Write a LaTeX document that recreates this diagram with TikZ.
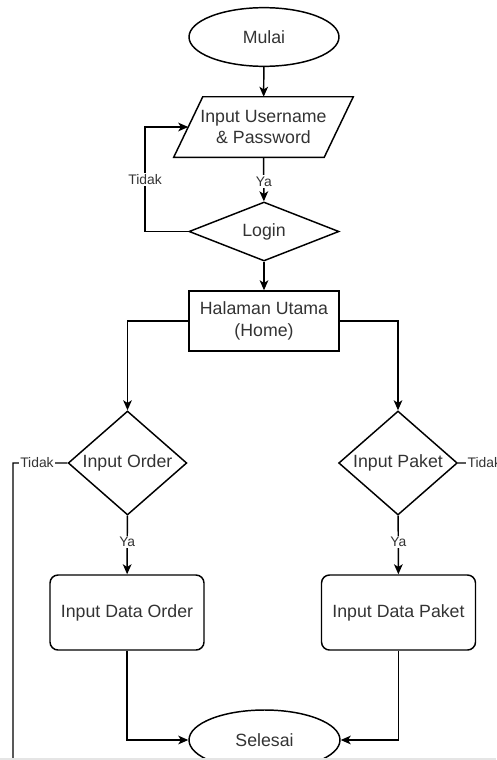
\documentclass[tikz,border=0pt]{standalone}
\usepackage{fontspec}
\setmainfont{Liberation Sans}
\usetikzlibrary{shapes.geometric,arrows.meta,calc}
\begin{document}
\begin{tikzpicture}[x=0.75pt,y=-0.75pt,
  every node/.style={font=\fontsize{13.3}{16.3}\selectfont, text=black!80},
  line/.style={line width=1.1pt, draw=black},
  arr/.style={line, -{Stealth[length=7.5pt,width=6.5pt,inset=2pt]}},
  terminal/.style={ellipse, draw, line width=1.1pt, inner sep=0pt, minimum width=112.5pt, minimum height=44pt},
  procbox/.style={rectangle, draw, line width=1.1pt, minimum width=112.5pt, minimum height=45pt, align=center},
  roundbox/.style={rectangle, rounded corners=6pt, draw, line width=1.1pt, minimum width=115.5pt, minimum height=56.25pt, align=center},
  decision/.style={diamond, draw, line width=1.1pt, inner sep=0pt, aspect=1.14, minimum width=89pt, minimum height=78pt},
  iobox/.style={rectangle, minimum width=112.5pt, minimum height=45pt, align=center},
  lbl/.style={fill=white, inner sep=1pt, font=\fontsize{10.4}{12}\selectfont}
]
\useasboundingbox (0,0) rectangle (496,760);
\clip (0,0) rectangle (496,760);

\node[terminal] (mulai) at (264,37) {Mulai};
\node[iobox] (par) at (263.5,127) {Input Username\\\& Password};
\draw[line, line join=miter] ([xshift=10.9pt]par.north west) -- ([xshift=10.9pt]par.north east)
   -- ([xshift=-10.9pt]par.south east) -- ([xshift=-10.9pt]par.south west) -- cycle;
\node[decision, aspect=2.54, minimum width=112.5pt, minimum height=44.25pt] (login) at (264,231.5) {Login};
\node[procbox] (home) at (264,321) {Halaman Utama\\(Home)};
\node[decision] (order) at (127.5,463) {Input Order};
\node[decision] (paket) at (398,463) {Input Paket};
\node[roundbox] (dorder) at (127,612.5) {Input Data Order};
\node[roundbox] (dpaket) at (398.5,612.5) {Input Data Paket};
\node[terminal, minimum width=113.25pt, minimum height=45pt] (selesai) at (264.5,740) {Selesai};

\coordinate (tl) at (145,127);
\coordinate (lb1) at (13,800);
\coordinate (lb2) at (205,800);
\coordinate (rb1) at (515,800);
\coordinate (rb2) at (324,800);

\draw[arr] (mulai) -- (par);
\draw[arr] (par) -- node[lbl, pos=0.55] {Ya} (login);
\draw[arr] (login.west) -| node[lbl, pos=0.75] {Tidak} (tl) -- (par.west);
\draw[arr] (login) -- (home);
\draw[arr] (home.west) -| (order.north);
\draw[arr] (home.east) -| (paket.north);
\draw[arr] (order) -- node[lbl, pos=0.45] {Ya} (dorder);
\draw[arr] (paket) -- node[lbl, pos=0.45] {Ya} (dpaket);
\draw[arr] (dorder.south) |- (selesai.west);
\draw[arr] (dpaket.south) |- (selesai.east);
\draw[arr] (order.west) -| node[lbl, pos=0.28] {Tidak} (lb1) -- (lb2) -- (selesai.197);
\draw[arr] (paket.east) -| node[lbl, pos=0.23] {Tidak} (rb1) -- (rb2) -- (selesai.343);

\draw[gray!20, line width=0.8pt] (0,759) -- (496,759);
\end{tikzpicture}
\end{document}
